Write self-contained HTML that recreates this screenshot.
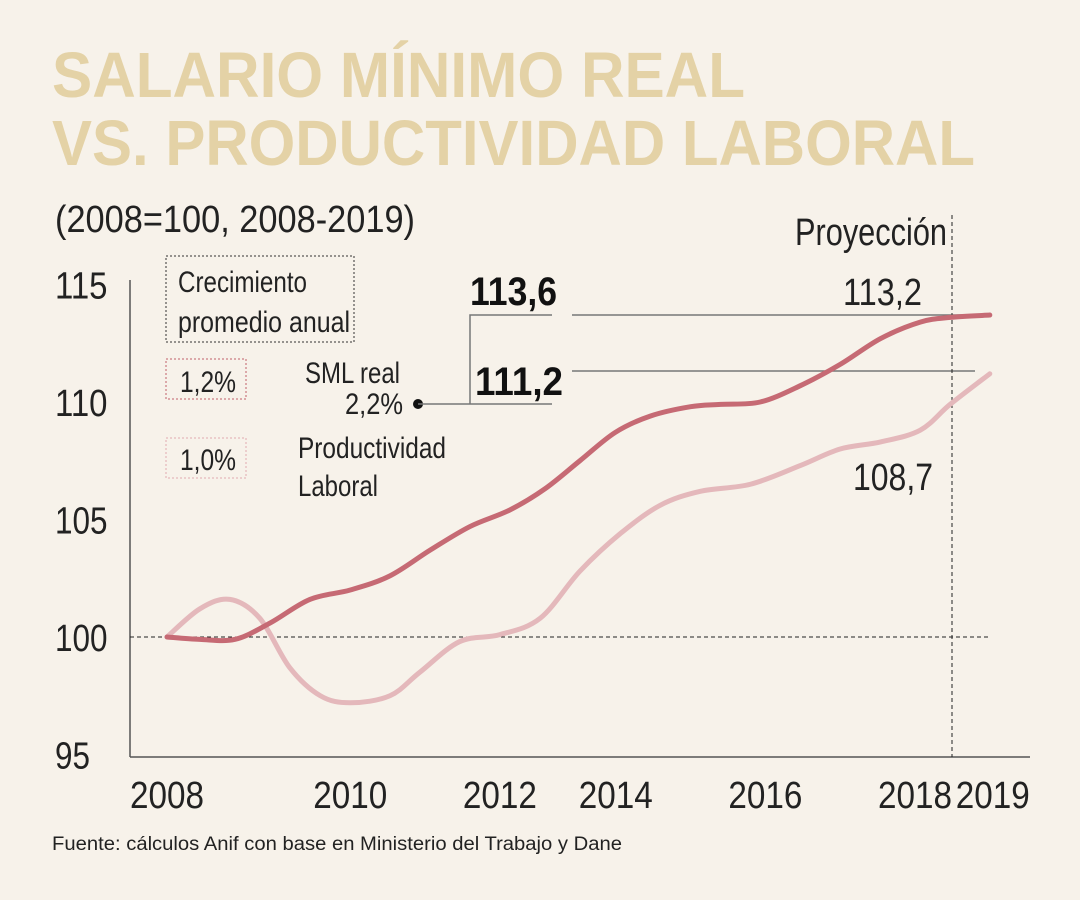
<!DOCTYPE html>
<html><head><meta charset="utf-8"><style>
body{margin:0;background:#f7f2ea;}
svg{display:block}
text{font-family:"Liberation Sans",sans-serif;}
</style></head><body>
<svg id="c" width="1080" height="900" viewBox="0 0 1080 900">
<rect width="1080" height="900" fill="#f7f2ea"/>
<text x="52" y="97" font-size="64" font-weight="bold" fill="#e4d2a6" textLength="693" lengthAdjust="spacingAndGlyphs">SALARIO MÍNIMO REAL</text>
<text x="52" y="165" font-size="64" font-weight="bold" fill="#e4d2a6" textLength="923" lengthAdjust="spacingAndGlyphs">VS. PRODUCTIVIDAD LABORAL</text>
<text x="55" y="232" font-size="38" fill="#222" textLength="360" lengthAdjust="spacingAndGlyphs">(2008=100, 2008-2019)</text>
<text x="795" y="245" font-size="38" fill="#222" textLength="152" lengthAdjust="spacingAndGlyphs">Proyección</text>
<text x="52" y="850" font-size="19" fill="#222" textLength="570" lengthAdjust="spacingAndGlyphs">Fuente: cálculos Anif con base en Ministerio del Trabajo y Dane</text>

<rect x="166" y="256" width="188" height="86" fill="none" stroke="#333" stroke-dasharray="2,2"/>
<text x="178" y="292" font-size="30" fill="#222" textLength="129" lengthAdjust="spacingAndGlyphs">Crecimiento</text>
<text x="178" y="332" font-size="30" fill="#222" textLength="172" lengthAdjust="spacingAndGlyphs">promedio anual</text>
<rect x="166" y="359" width="80" height="40" fill="none" stroke="#c0606a" stroke-dasharray="2,2"/>
<text x="180" y="392" font-size="30" fill="#222" textLength="56" lengthAdjust="spacingAndGlyphs">1,2%</text>
<rect x="166" y="438" width="80" height="40" fill="none" stroke="#e0aab0" stroke-dasharray="2,2"/>
<text x="180" y="470" font-size="30" fill="#222" textLength="56" lengthAdjust="spacingAndGlyphs">1,0%</text>
<text x="305" y="383" font-size="30" fill="#222" textLength="95" lengthAdjust="spacingAndGlyphs">SML real</text>
<text x="345" y="414" font-size="30" fill="#222" textLength="58" lengthAdjust="spacingAndGlyphs">2,2%</text>
<text x="298" y="458" font-size="30" fill="#222" textLength="148" lengthAdjust="spacingAndGlyphs">Productividad</text>
<text x="298" y="496" font-size="30" fill="#222" textLength="80" lengthAdjust="spacingAndGlyphs">Laboral</text>
<circle cx="418" cy="404" r="5" fill="#111"/>
<path d="M418 404H470M470 404V315H552M470 404H552" fill="none" stroke="#777" stroke-width="1.5"/>
<text x="470" y="305" font-size="40" font-weight="bold" fill="#111" textLength="87" lengthAdjust="spacingAndGlyphs">113,6</text>
<text x="475" y="395" font-size="40" font-weight="bold" fill="#111" textLength="88" lengthAdjust="spacingAndGlyphs">111,2</text>
<line x1="572" y1="315" x2="975" y2="315" stroke="#777" stroke-width="1.5"/>
<line x1="572" y1="371" x2="975" y2="371" stroke="#777" stroke-width="1.5"/>
<text x="843" y="305" font-size="38" fill="#222" textLength="79" lengthAdjust="spacingAndGlyphs">113,2</text>
<text x="853" y="490" font-size="38" fill="#222" textLength="80" lengthAdjust="spacingAndGlyphs">108,7</text>
<g id="plot"></g>
</svg>
<script>
const smlYears=[2008,2008.44,2008.91,2009.38,2009.91,2010.45,2010.98,2011.52,2012.05,2012.58,2013.05,2013.52,2013.99,2014.46,2015.0,2015.4,2015.93,2016.47,2017.0,2017.54,2018.07,2018.47,2019.0];
const smlValues=[100,99.9,99.9,100.6,101.6,102,102.6,103.7,104.7,105.4,106.3,107.5,108.7,109.4,109.8,109.9,110,110.7,111.6,112.7,113.4,113.6,113.7];
const prodYears=[2008,2008.44,2008.84,2009.24,2009.64,2010.05,2010.45,2010.98,2011.38,2011.91,2012.45,2012.99,2013.52,2014.06,2014.59,2015.13,2015.8,2016.47,2017.0,2017.54,2018.07,2018.47,2019.0];
const prodValues=[100,101.2,101.6,100.8,98.7,97.5,97.2,97.5,98.5,99.8,100.1,100.8,102.8,104.4,105.6,106.2,106.5,107.3,108,108.3,108.8,109.9,111.2];
const yTicks=[95,100,105,110,115];
const xTickLabels=["2008","2010","2012","2014","2016","2018","2019"];
const xTickAt=[2008,2010.45,2012.45,2014.0,2016.0,2018.0,2019.04];
const X=t=>167+(t-2008)*74.8;
const Y=v=>637-(v-100)*23.5;
const g=document.getElementById('plot');
const NS='http://www.w3.org/2000/svg';
function mk(tag,attrs){const e=document.createElementNS(NS,tag);for(const k in attrs)e.setAttribute(k,attrs[k]);g.appendChild(e);return e;}
let e=mk('line',{x1:130,y1:280,x2:130,y2:757,stroke:'#555','stroke-width':1.5});


e=mk('line',{x1:130,y1:757,x2:1030,y2:757,stroke:'#555','stroke-width':1.5});


e=mk('line',{x1:130,y1:Y(100),x2:990,y2:Y(100),stroke:'#222','stroke-dasharray':'4,3'});


e=mk('line',{x1:952,y1:215,x2:952,y2:757,stroke:'#222','stroke-dasharray':'4,3'});


yTicks.forEach(v=>{const s=String(v);const t=mk('text',{x:55,y:Y(v)+14,'font-size':38,fill:'#222',textLength:s.length*17.5,lengthAdjust:'spacingAndGlyphs'});t.textContent=s;

});
xTickLabels.forEach((l,i)=>{const t=mk('text',{x:X(xTickAt[i])-37,y:808,'font-size':38,fill:'#222',textLength:74,lengthAdjust:'spacingAndGlyphs'});t.textContent=l;

});
function smooth(xs,vs){const p=xs.map((t,i)=>[X(t),Y(vs[i])]);let d='M'+p[0][0]+' '+p[0][1];
for(let i=0;i<p.length-1;i++){const p0=p[i-1]||p[i],p1=p[i],p2=p[i+1],p3=p[i+2]||p2;
d+=' C'+(p1[0]+(p2[0]-p0[0])/6)+' '+(p1[1]+(p2[1]-p0[1])/6)+' '+(p2[0]-(p3[0]-p1[0])/6)+' '+(p2[1]-(p3[1]-p1[1])/6)+' '+p2[0]+' '+p2[1];}return d;}
e=mk('path',{d:smooth(prodYears,prodValues),fill:'none',stroke:'#e4b8bb','stroke-width':5,'stroke-linecap':'round'});


e=mk('path',{d:smooth(smlYears,smlValues),fill:'none',stroke:'#c66a74','stroke-width':5,'stroke-linecap':'round'});


</script>
</body></html>
